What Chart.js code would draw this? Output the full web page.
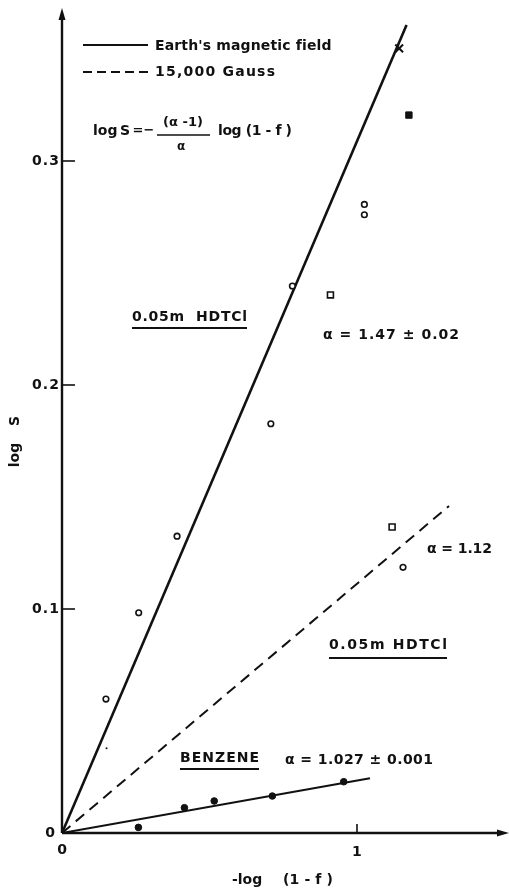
<!DOCTYPE html>
<html>
<head>
<meta charset="utf-8">
<script src="https://cdn.jsdelivr.net/npm/chart.js@4.4.1/dist/chart.umd.min.js"></script>
<style>
  html, body { margin: 0; padding: 0; background: #fff; }
  canvas { display: block; }
</style>
</head>
<body>
<canvas id="c" width="509" height="890"></canvas>
<script>
// Fitted lines: log S against -log(1-f), each from the origin to its end point
const earthFieldLine = [{x: 0, y: 0}, {x: 1.168, y: 0.3607}];
const gaussLine      = [{x: 0, y: 0}, {x: 1.312, y: 0.146}];
const benzeneLine    = [{x: 0, y: 0}, {x: 1.044, y: 0.0244}];

// Measured points
const openCircles = [
  {x: 0.149, y: 0.0598}, {x: 0.260, y: 0.0983}, {x: 0.390, y: 0.1325},
  {x: 0.708, y: 0.1827}, {x: 0.781, y: 0.2442}, {x: 1.025, y: 0.2806},
  {x: 1.025, y: 0.2760}, {x: 1.156, y: 0.1186}
];
const openSquares   = [{x: 0.910, y: 0.2402}, {x: 1.119, y: 0.1366}];
const filledSquares = [{x: 1.176, y: 0.3205}];
const crosses       = [{x: 1.143, y: 0.3503}];
const smallDots     = [{x: 0.151, y: 0.0378}];
const benzenePoints = [
  {x: 0.259, y: 0.0025}, {x: 0.415, y: 0.0113}, {x: 0.516, y: 0.0143},
  {x: 0.713, y: 0.0165}, {x: 0.955, y: 0.0229}
];

// Axis ticks
const yTicks = [0.1, 0.2, 0.3];
const yTickLabels = ['0.1', '0.2', '0.3'];
const xTicks = [1];
const xTickLabels = ['1'];

const FONT = '"DejaVu Sans", sans-serif';
const INK = '#111';

// Draws a string left-aligned (or centred / right-aligned) at x, vertically
// centred on y; when a width is given the letters are spaced to fill it.
function text(ctx, str, x, y, size, width, align) {
  ctx.font = 'bold ' + size + 'px ' + FONT;
  ctx.textBaseline = 'middle';
  ctx.textAlign = 'left';
  ctx.letterSpacing = '0px';
  const natural = ctx.measureText(str).width;
  let w = natural;
  if (width && str.length > 1) {
    const extra = (width - natural) / (str.length - 1);
    ctx.letterSpacing = extra + 'px';
    w = width;
  }
  const left = align === 'center' ? x - w / 2 : (align === 'right' ? x - w : x);
  ctx.fillText(str, left, y);
  ctx.letterSpacing = '0px';
  return w;
}

function underlined(ctx, str, x, y, size, width, uy) {
  const w = text(ctx, str, x, y, size, width);
  ctx.beginPath();
  ctx.moveTo(x, uy);
  ctx.lineTo(x + w, uy);
  ctx.lineWidth = 1.8;
  ctx.stroke();
}

const decorations = {
  id: 'decorations',
  beforeDatasetsDraw(chart) {
    const ctx = chart.ctx;
    const xs = chart.scales.x, ys = chart.scales.y;
    const x0 = xs.getPixelForValue(0), y0 = ys.getPixelForValue(0);
    const area = chart.chartArea;
    ctx.save();
    ctx.strokeStyle = INK;
    ctx.fillStyle = INK;
    ctx.lineCap = 'butt';

    // axes with arrow heads
    ctx.lineWidth = 2.4;
    ctx.beginPath();
    ctx.moveTo(x0, y0);
    ctx.lineTo(x0, area.top + 8);
    ctx.moveTo(x0, y0);
    ctx.lineTo(area.right - 8, y0);
    ctx.stroke();
    ctx.beginPath();
    ctx.moveTo(x0, area.top);
    ctx.lineTo(x0 - 3.5, area.top + 12);
    ctx.lineTo(x0 + 3.5, area.top + 12);
    ctx.closePath();
    ctx.fill();
    ctx.beginPath();
    ctx.moveTo(area.right, y0);
    ctx.lineTo(area.right - 12, y0 - 3.5);
    ctx.lineTo(area.right - 12, y0 + 3.5);
    ctx.closePath();
    ctx.fill();

    // ticks
    ctx.lineWidth = 1.6;
    yTicks.forEach((v, i) => {
      const py = ys.getPixelForValue(v);
      ctx.beginPath();
      ctx.moveTo(x0, py);
      ctx.lineTo(x0 + 13, py);
      ctx.stroke();
      text(ctx, yTickLabels[i], x0 - 3, py, 14, 27, 'right');
    });
    xTicks.forEach((v, i) => {
      const px = xs.getPixelForValue(v);
      ctx.beginPath();
      ctx.moveTo(px, y0);
      ctx.lineTo(px, y0 - 9);
      ctx.stroke();
      text(ctx, xTickLabels[i], px, y0 + 19, 14, 0, 'center');
    });
    text(ctx, '0', x0 - 12, y0, 14, 0, 'center');
    text(ctx, '0', x0, y0 + 17, 14, 0, 'center');

    // axis titles
    text(ctx, '-log', 232, 880, 14);
    text(ctx, '(1 - f )', 283, 880, 14, 50);
    ctx.save();
    ctx.translate(15, 442);
    ctx.rotate(-Math.PI / 2);
    text(ctx, 'log', -13, 0, 14, 0, 'center');
    text(ctx, 'S', 21, 0, 14, 0, 'center');
    ctx.restore();

    // key
    ctx.lineWidth = 2;
    ctx.beginPath();
    ctx.moveTo(83, 45);
    ctx.lineTo(148, 45);
    ctx.stroke();
    ctx.setLineDash([9, 5]);
    ctx.beginPath();
    ctx.moveTo(83, 72);
    ctx.lineTo(148, 72);
    ctx.stroke();
    ctx.setLineDash([]);
    text(ctx, "Earth's magnetic field", 155, 46, 14, 176);
    text(ctx, '15,000 Gauss', 155, 72, 14, 120);

    // relation used for the fits
    text(ctx, 'log', 93, 131, 14);
    text(ctx, 'S', 125, 131, 14, 0, 'center');
    text(ctx, '=', 138, 131, 13, 0, 'center');
    text(ctx, '−', 149, 131, 13, 0, 'center');
    text(ctx, '(α -1)', 183, 123, 13, 0, 'center');
    ctx.lineWidth = 1.4;
    ctx.beginPath();
    ctx.moveTo(157, 135);
    ctx.lineTo(210, 135);
    ctx.stroke();
    text(ctx, 'α', 181, 147, 12, 0, 'center');
    text(ctx, 'log (1 - f )', 218, 131, 14, 74);

    // series annotations
    underlined(ctx, '0.05m  HDTCl', 132, 317, 14, 115, 328);
    text(ctx, 'α = 1.47 ± 0.02', 323, 335, 14, 136);
    text(ctx, 'α = 1.12', 427, 549, 14, 65);
    underlined(ctx, '0.05m HDTCl', 329, 645, 14, 118, 658);
    underlined(ctx, 'BENZENE', 180, 758, 14, 79, 769);
    text(ctx, 'α = 1.027 ± 0.001', 285, 760, 14, 148);

    ctx.restore();
  }
};

function lineSet(data, width, dash) {
  return {
    type: 'line', data, showLine: true, borderColor: INK, borderWidth: width,
    borderDash: dash || [], pointRadius: 0, fill: false, tension: 0, order: 2
  };
}
function pointSet(data, style, radius, filled, bw) {
  return {
    type: 'scatter', data, pointStyle: style, pointRadius: radius,
    pointBackgroundColor: filled ? INK : '#fff', pointBorderColor: INK,
    pointBorderWidth: bw, order: 1
  };
}

new Chart(document.getElementById('c'), {
  data: {
    datasets: [
      lineSet(earthFieldLine, 2.6),
      lineSet(gaussLine, 2, [11, 7]),
      lineSet(benzeneLine, 2),
      pointSet(openCircles, 'circle', 2.8, false, 1.6),
      pointSet(openSquares, 'rect', 4.2, false, 1.6),
      pointSet(filledSquares, 'rect', 4.5, true, 1),
      pointSet(crosses, 'crossRot', 5.5, false, 2),
      pointSet(smallDots, 'circle', 1, true, 0),
      pointSet(benzenePoints, 'circle', 3.3, true, 1)
    ]
  },
  options: {
    responsive: false,
    animation: false,
    devicePixelRatio: 1,
    layout: { autoPadding: false, padding: { left: 62, right: 0, top: 8, bottom: 57 } },
    scales: {
      x: { type: 'linear', min: 0, max: 1.5153, display: false },
      y: { type: 'linear', min: 0, max: 0.3683, display: false }
    },
    plugins: { legend: { display: false }, tooltip: { enabled: false } }
  },
  plugins: [decorations]
});
</script>
</body>
</html>
